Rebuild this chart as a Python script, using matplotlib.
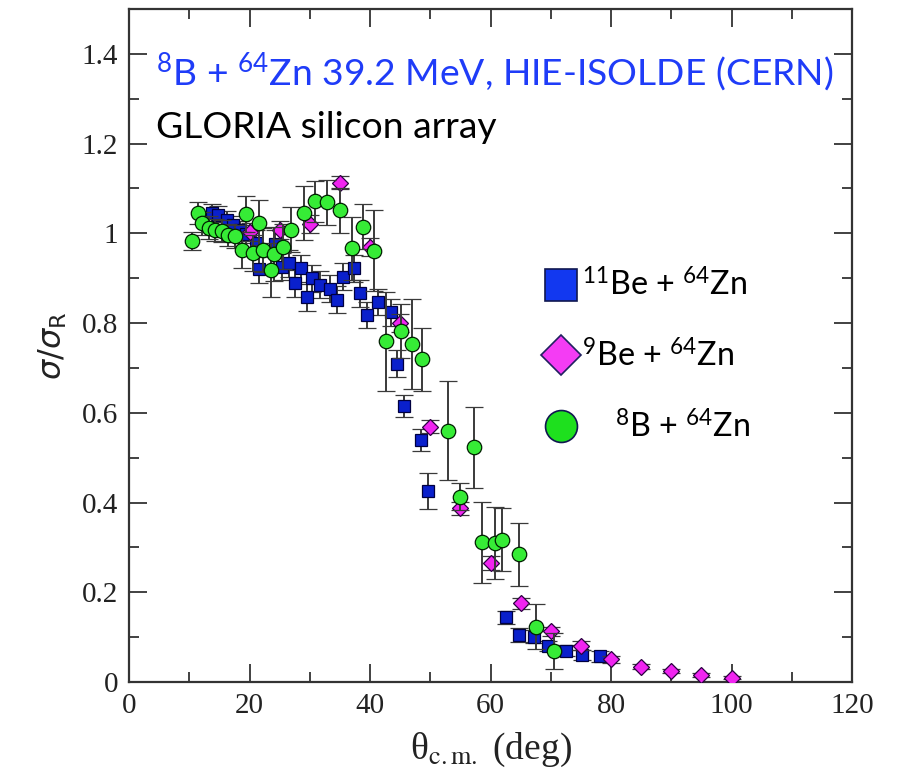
import matplotlib
matplotlib.use('Agg')
import matplotlib.pyplot as plt
from matplotlib.lines import Line2D
from matplotlib.ticker import MultipleLocator

plt.rcParams['mathtext.fontset'] = 'custom'
plt.rcParams['mathtext.rm'] = 'Lato'
plt.rcParams['mathtext.it'] = 'Lato:italic'
plt.rcParams['mathtext.bf'] = 'Lato:bold'

# 11Be + 64Zn
be11_theta = [13.7, 14.8, 16.2, 17.3, 18.4, 19.5, 21.0, 21.5, 24.3, 25.4, 26.6, 27.6,
              28.6, 29.5, 30.3, 31.7, 33.4, 34.5, 35.6, 37.3, 38.4, 39.5, 41.4, 43.5,
              44.4, 45.6, 48.5, 49.6, 62.6, 64.8, 67.3, 69.6, 72.5, 75.2, 78.1]
be11_ratio = [1.045, 1.040, 1.030, 1.019, 1.008, 0.998, 0.978, 0.920, 0.977, 0.926, 0.933, 0.889,
              0.922, 0.857, 0.900, 0.885, 0.877, 0.852, 0.903, 0.922, 0.866, 0.818, 0.847, 0.824,
              0.709, 0.615, 0.539, 0.426, 0.144, 0.105, 0.101, 0.080, 0.070, 0.060, 0.057]
be11_err = [0.02, 0.02, 0.02, 0.02, 0.02, 0.02, 0.03, 0.03, 0.03, 0.03, 0.03, 0.03,
            0.03, 0.03, 0.03, 0.03, 0.03, 0.03, 0.03, 0.03, 0.03, 0.03, 0.03, 0.03,
            0.03, 0.025, 0.025, 0.04, 0.015, 0.015, 0.015, 0.012, 0.012, 0.012, 0.012]

# 9Be + 64Zn
be9_theta = [20, 25, 30, 35, 40, 45, 50, 55, 60, 65, 70, 75, 80, 85, 90, 95, 100]
be9_ratio = [1.004, 1.008, 1.021, 1.113, 0.970, 0.800, 0.569, 0.387, 0.265, 0.175,
             0.113, 0.081, 0.051, 0.034, 0.025, 0.016, 0.010]
be9_err = [0.02, 0.02, 0.02, 0.015, 0.02, 0.02, 0.015, 0.015, 0.015, 0.012,
           0.01, 0.01, 0.008, 0.006, 0.005, 0.004, 0.004]

# 8B + 64Zn (GLORIA)
b8_theta = [10.4, 11.5, 12.1, 13.2, 14.3, 15.4, 16.5, 17.6, 18.7, 19.5, 20.5, 21.5,
            22.3, 23.5, 24.1, 25.6, 26.9, 29.0, 30.9, 32.8, 35.0, 37.0, 38.9, 40.7,
            42.7, 45.1, 47.0, 48.6, 52.9, 54.9, 57.2, 58.6, 60.8, 61.9, 64.7, 67.6, 70.6]
b8_ratio = [0.983, 1.045, 1.022, 1.013, 1.008, 1.005, 0.996, 0.993, 0.963, 1.043, 0.956, 1.024,
            0.963, 0.918, 0.954, 0.970, 1.008, 1.045, 1.071, 1.069, 1.051, 0.967, 1.015, 0.961,
            0.759, 0.783, 0.753, 0.719, 0.560, 0.413, 0.523, 0.311, 0.309, 0.317, 0.285, 0.123, 0.070]
b8_err = [0.02, 0.025, 0.025, 0.025, 0.025, 0.025, 0.025, 0.025, 0.04, 0.04, 0.04, 0.05,
          0.05, 0.06, 0.06, 0.05, 0.05, 0.06, 0.045, 0.05, 0.05, 0.07, 0.05, 0.09,
          0.11, 0.06, 0.10, 0.07, 0.11, 0.03, 0.09, 0.09, 0.08, 0.07, 0.07, 0.05, 0.04]

fig = plt.figure(figsize=(9.02, 7.70), dpi=100)
ax = fig.add_axes([129/902, 1 - 682/770, 723/902, 673/770])

bar_kw = dict(ecolor='#3a3a3a', elinewidth=1.4, capsize=6.5, capthick=1.4, linestyle='none')

ax.errorbar(be11_theta, be11_ratio, yerr=be11_err, fmt='s', ms=8.8, mfc='#0a20cc',
            mec='#000040', mew=0.9, zorder=3, **bar_kw)
ax.errorbar(be9_theta, be9_ratio, yerr=be9_err, fmt='D', ms=7.8, mfc='#f024f0',
            mec='#2a0040', mew=0.9, zorder=4, **bar_kw)
ax.errorbar(b8_theta, b8_ratio, yerr=b8_err, fmt='o', ms=10.4, mfc='#36ec36',
            mec='#002000', mew=0.9, zorder=5, **bar_kw)

ax.set_xlim(0, 120)
ax.set_ylim(0, 1.5)
ax.xaxis.set_major_locator(MultipleLocator(20))
ax.xaxis.set_minor_locator(MultipleLocator(10))
ax.set_yticks([0, 0.2, 0.4, 0.6, 0.8, 1.0, 1.2, 1.4])
ax.set_yticklabels(['0', '0.2', '0.4', '0.6', '0.8', '1', '1.2', '1.4'])
ax.yaxis.set_minor_locator(MultipleLocator(0.1))
ax.tick_params(which='both', direction='in', top=True, right=True, width=1.3,
               color='#333333')
ax.tick_params(which='major', length=13, labelsize=21, pad=8)
ax.tick_params(which='minor', length=7)
for lab in ax.get_xticklabels() + ax.get_yticklabels():
    lab.set_fontfamily('Liberation Serif')
    lab.set_color('#222222')
for sp in ax.spines.values():
    sp.set_linewidth(1.6)
    sp.set_color('#333333')

ax.set_xlabel(r'θ$_{\rm c.m.}$ (deg)', fontsize=27, family='Liberation Serif',
              math_fontfamily='stix', color='#222222')
ax.xaxis.set_label_coords(0.5, -0.072)
ax.set_ylabel(r'$\sigma/\sigma_{\rm R}$', fontsize=23, math_fontfamily='dejavusans',
              color='#222222')
ax.yaxis.set_label_coords(-0.083, 0.5)

ax.text(0.037, 0.887, r'$^{8}$B + $^{64}$Zn 39.2 MeV, HIE-ISOLDE (CERN)',
        transform=ax.transAxes, fontsize=26.8, family='Lato', color='#1f3cf8',
        va='baseline', math_fontfamily='custom')
ax.text(0.037, 0.808, 'GLORIA silicon array', transform=ax.transAxes, fontsize=26.8,
        family='Lato', color='black', va='baseline')

handles = [
    Line2D([], [], ls='none', marker='s', ms=23, mfc='#1238f0', mec='#101850', mew=1.2),
    Line2D([], [], ls='none', marker='D', ms=20, mfc='#f43cf4', mec='#202060', mew=1.2),
    Line2D([], [], ls='none', marker='o', ms=23, mfc='#1ee01e', mec='#101850', mew=1.2),
]
labels = [r'$^{11}$Be + $^{64}$Zn', r'$^{9}$Be + $^{64}$Zn', r'    $^{8}$B + $^{64}$Zn']
leg = ax.legend(handles, labels, loc='upper left', bbox_to_anchor=(0.575, 0.614),
                frameon=False, prop={'family': 'Lato', 'size': 23.2}, handlelength=1.0,
                handletextpad=0.15, labelspacing=1.17, borderpad=0, borderaxespad=0)

fig.savefig('out.png', dpi=100)
